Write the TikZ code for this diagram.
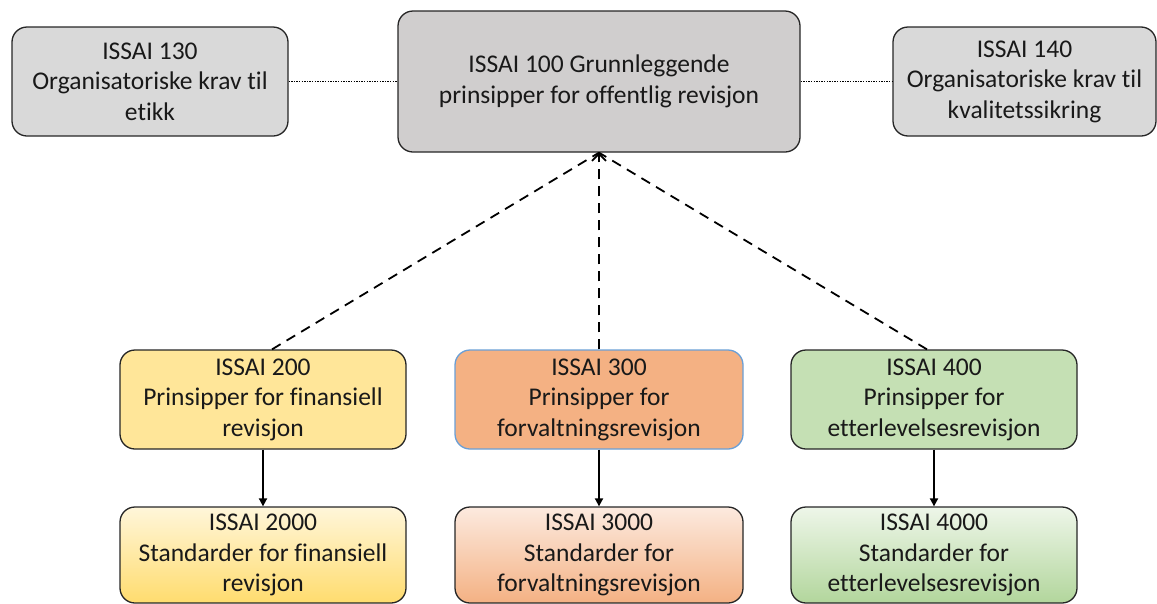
\documentclass[tikz,border=0pt]{standalone}
\usepackage{fontspec}
\setmainfont{Carlito}[Ligatures=NoCommon]
\usepackage{tikz}
\usetikzlibrary{arrows.meta}

\definecolor{boxgrey}{HTML}{D9D9D9}
\definecolor{topgrey}{HTML}{D0CECE}
\definecolor{finyellow}{HTML}{FFE699}
\definecolor{finyellowlight}{HTML}{FFF6DA}
\definecolor{finyellowdeep}{HTML}{FFDC6E}
\definecolor{forvorange}{HTML}{F4B183}
\definecolor{forvorangelight}{HTML}{FCEADF}
\definecolor{etgreen}{HTML}{C5E0B4}
\definecolor{etgreenlight}{HTML}{EEF6E9}
\definecolor{etgreendeep}{HTML}{B2D69C}
\definecolor{edgeblue}{HTML}{6A9FD6}

\begin{document}
\begin{tikzpicture}[x=1pt, y=-1pt,
	issai/.style={draw=black!85, line width=1.3pt, rounded corners=15pt, align=center,
		font=\fontsize{25.5}{30.5}\selectfont, text=black!90, inner sep=0pt},
	sidebox/.style={issai, fill=boxgrey, minimum height=109pt},
	upper/.style={issai, minimum height=99pt},
	lower/.style={issai, minimum height=96pt},
	dotlink/.style={line width=1.3pt, dash pattern=on 1.3pt off 1.3pt},
	dashlink/.style={line width=1.8pt, dash pattern=on 10pt off 7pt},
	solidlink/.style={line width=1.8pt, -{Triangle[length=8pt,width=8pt]}}]

	\useasboundingbox (0,0) rectangle (1157,603);

	% top row
	\node[sidebox, minimum width=276pt] (i130) at (150,81.5) {ISSAI 130\\Organisatoriske krav til\\etikk};
	\node[issai, fill=topgrey, minimum width=402pt, minimum height=141pt] (i100) at (599,81.5) {ISSAI 100 Grunnleggende\\prinsipper for offentlig revisjon};
	\node[sidebox, minimum width=263pt] (i140) at (1024.5,81.5) {ISSAI 140\\Organisatoriske krav til\\kvalitetssikring};

	\draw[dotlink] (i130.east) -- (i100.west);
	\draw[dotlink] (i100.east) -- (i140.west);

	% principles
	\node[upper, fill=finyellow, minimum width=286pt] (i200) at (263,399.5) {ISSAI 200\\Prinsipper for finansiell\\revisjon};
	\node[upper, fill=forvorange, draw=edgeblue, minimum width=288pt] (i300) at (599,399.5) {ISSAI 300\\Prinsipper for\\forvaltningsrevisjon};
	\node[upper, fill=etgreen, minimum width=286pt] (i400) at (934,399.5) {ISSAI 400\\Prinsipper for\\etterlevelsesrevisjon};

	% standards
	\node[lower, top color=finyellowlight, bottom color=finyellowdeep, minimum width=286pt] (i2000) at (263,555) {ISSAI 2000\\Standarder for finansiell\\revisjon};
	\node[lower, top color=forvorangelight, bottom color=forvorange, minimum width=288pt] (i3000) at (599,555) {ISSAI 3000\\Standarder for\\forvaltningsrevisjon};
	\node[lower, top color=etgreenlight, bottom color=etgreendeep, minimum width=286pt] (i4000) at (934,555) {ISSAI 4000\\Standarder for\\etterlevelsesrevisjon};

	\draw[dashlink] ([xshift=9pt]i200.north) -- (i100.south);
	\draw[dashlink, -{Straight Barb[length=7pt,width=14pt]}] (i300.north) -- (i100.south);
	\draw[dashlink] ([xshift=-7pt]i400.north) -- (i100.south);

	\draw[solidlink] (i200) -- (i2000);
	\draw[solidlink] (i300) -- (i3000);
	\draw[solidlink] (i400) -- (i4000);

\end{tikzpicture}
\end{document}
